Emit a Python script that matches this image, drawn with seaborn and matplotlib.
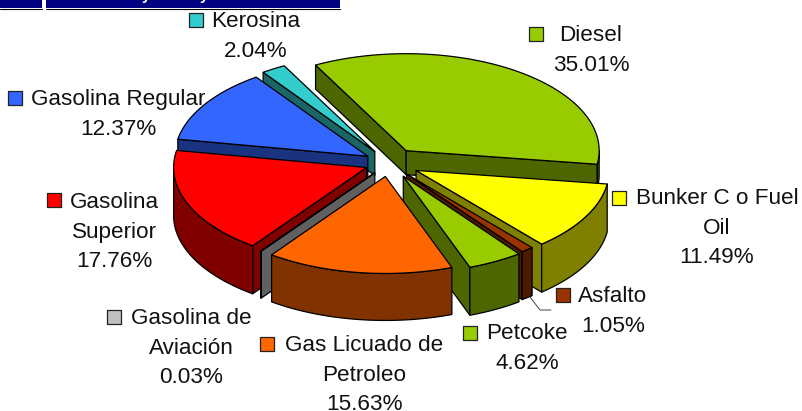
import numpy as np
import matplotlib
matplotlib.use("Agg")
import matplotlib.pyplot as plt
import seaborn as sns

# data
names = ["Diesel", "Bunker C o Fuel\nOil", "Asfalto", "Petcoke", "Gas Licuado de\nPetroleo",
         "Gasolina de\nAviación", "Gasolina\nSuperior", "Gasolina Regular", "Kerosina"]
shares = [35.01, 11.49, 1.05, 4.62, 15.63, 0.03, 17.76, 12.37, 2.04]
colors = ["#99CC00", "#FFFF00", "#993300", "#99CC00", "#FF6600",
          "#C0C0C0", "#FF0000", "#3366FF", "#33CCCC"]

# pie shape, in pixels of the figure
explode = [0.155, 0.16, 0.145, 0.155, 0.14, 0.125, 0.125, 0.13, 0.14]
depth = [24, 48, 48, 48, 47, 47, 48, 48, 24]
draw_order = [8, 7, 0, 6, 1, 5, 2, 3, 4]
cx, cy, ra, rb = 389, 163, 193, 97
start_angle = 118

# label placing: centre of the text block, first baseline, legend key x, y
label_x = [591, 717, 613, 527, 364, 191, 114, 118, 256]
label_y = [41, 204, 302, 339, 351, 324, 208, 105, 27]
key_x = [536, 619, 563, 470, 267, 114, 54, 15, 196]
key_y = [34, 198, 295, 333, 344, 317, 200, 98, 20]

sns.set_theme(style="white")
plt.rcParams["font.family"] = ["Liberation Sans", "DejaVu Sans"]

fig = plt.figure(figsize=(8.02, 4.11), dpi=100)
ax = fig.add_axes([0, 0, 1, 1])
ax.set_xlim(0, 802)
ax.set_ylim(411, 0)
ax.axis("off")

# banner cut off at the top of the picture
ax.fill_between([0, 42], 0, 8.5, color="#000080", lw=0)
ax.fill_between([46, 340], 0, 8.5, color="#000080", lw=0)
ax.plot([0, 42], [9, 9], color="black", lw=0.8)
ax.plot([46, 340], [9, 9], color="black", lw=0.8)
for bx in [146, 204]:
    ax.text(bx, 0, "y", color="white", fontsize=11, fontweight="bold", ha="center", va="baseline")

ends = start_angle - np.cumsum(shares) * 3.6
starts = np.r_[start_angle, ends[:-1]]


def darker(c):
    return tuple(v * 0.5 for v in matplotlib.colors.to_rgb(c))


def side_face(xs, ys, d, color, z):
    fx = np.r_[xs, xs[::-1]]
    fy = np.r_[ys, ys[::-1] + d]
    ax.fill(fx, fy, facecolor=color, edgecolor="black", lw=0.9, joinstyle="round", zorder=z)


for z, i in enumerate(draw_order):
    mid = np.radians((starts[i] + ends[i]) / 2)
    ox = cx + explode[i] * ra * np.cos(mid)
    oy = cy - explode[i] * rb * np.sin(mid)
    t = np.radians(np.linspace(starts[i], ends[i], max(int(abs(starts[i] - ends[i])), 2) + 1))
    ax_pts = ox + ra * np.cos(t)
    ay_pts = oy - rb * np.sin(t)
    side = darker(colors[i])
    # walking clockwise, an edge going left faces the viewer
    if ax_pts[0] < ox:
        side_face(np.array([ox, ax_pts[0]]), np.array([oy, ay_pts[0]]), depth[i], side, 10 + z)
    if ox < ax_pts[-1]:
        side_face(np.array([ax_pts[-1], ox]), np.array([ay_pts[-1], oy]), depth[i], side, 10 + z)
    going_left = np.diff(ax_pts) < 0
    k = 0
    while k < len(going_left):
        if going_left[k]:
            m = k
            while m + 1 < len(going_left) and going_left[m + 1]:
                m += 1
            side_face(ax_pts[k:m + 2], ay_pts[k:m + 2], depth[i], side, 10 + z)
            k = m + 1
        else:
            k += 1
    ax.fill(np.r_[ox, ax_pts], np.r_[oy, ay_pts], facecolor=colors[i], edgecolor="black",
            lw=0.9, joinstyle="round", zorder=10 + z)

# labels
for i, name in enumerate(names):
    lines = name.split("\n") + [f"{shares[i]:.2f}%"]
    for n, line in enumerate(lines):
        ax.text(label_x[i], label_y[i] + n * 29.7, line, fontsize=16.2, color="#111111",
                ha="center", va="baseline", zorder=40)

for i in range(len(names)):
    ax.scatter(key_x[i], key_y[i], marker="s", s=92, facecolor=colors[i],
               edgecolor="#222222", linewidth=0.9, zorder=40)

# leader line of Asfalto
ax.plot([530, 540, 551], [297, 310, 310], color="#444444", lw=0.7, zorder=9)

fig.savefig("out.png", dpi=100)
